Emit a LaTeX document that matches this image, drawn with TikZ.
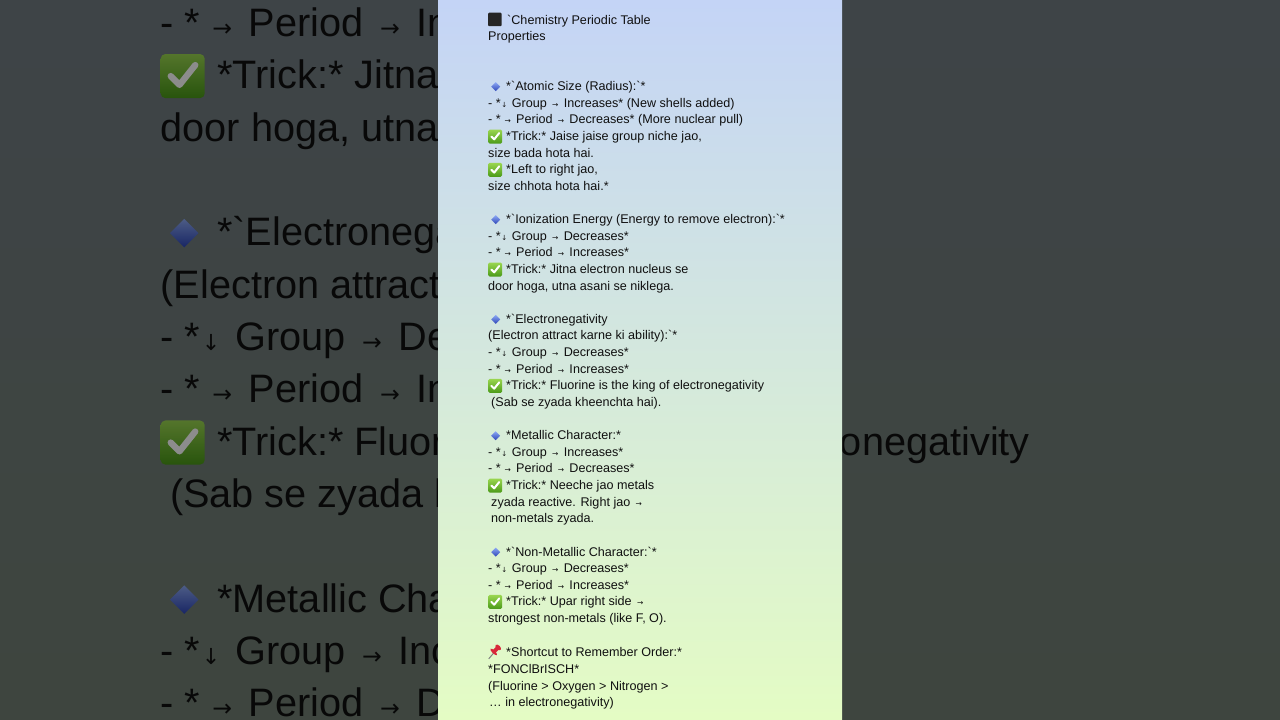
\documentclass[tikz,border=0pt]{standalone}
\usepackage{fontspec}
\setmainfont{Liberation Sans}[Ligatures=TeXOff]
\newfontfamily\arfont{DejaVu Sans}
\definecolor{paneltop}{HTML}{C4D4F6}
\definecolor{panelmid}{HTML}{D3E8DC}
\definecolor{panelbot}{HTML}{E4FCC4}
\definecolor{sidetop}{HTML}{717C83}
\definecolor{sidebot}{HTML}{717F73}
\definecolor{txtcol}{HTML}{101010}
\definecolor{sqcol}{HTML}{262626}
\definecolor{diaT}{HTML}{8CA8F4}
\definecolor{diaB}{HTML}{2E46B8}
\definecolor{chkT}{HTML}{9AD650}
\definecolor{chkB}{HTML}{4A9A18}
\definecolor{chkW}{HTML}{FFFFFF}
\definecolor{pinred}{HTML}{D8283A}
\definecolor{pingray}{HTML}{808080}
\newcommand\ra{\hspace{1.8pt}{\arfont\fontsize{7.5}{7.5}\selectfont →}\hspace{1.8pt}}
\newcommand\da{\hspace{0.5pt}{\arfont\fontsize{7}{7}\selectfont ↓}\hspace{1.2pt}}
\newcommand\icsq{\makebox[19pt][l]{\tikz[x=1pt,y=1pt,baseline=0pt]{\fill[sqcol,rounded corners=1pt] (0.5,-2) rectangle (14,11.5);}}}
\newcommand\icdia{\makebox[18pt][l]{\tikz[x=1pt,y=1pt,baseline=0pt]{\path (0,0) rectangle (1,1);\shade[top color=diaT,bottom color=diaB] (7.5,-0.5) -- (12,4) -- (7.5,8.5) -- (3,4) -- cycle;}}}
\newcommand\icchk{\makebox[18pt][l]{\tikz[x=1pt,y=1pt,baseline=0pt]{\shade[top color=chkT,bottom color=chkB,rounded corners=1.5pt] (0,-3) rectangle (14,11);\draw[chkW,line width=2pt,line cap=round,line join=round] (3.2,4) -- (6,1.2) -- (11,7.5);}}}
\newcommand\icpin{\makebox[18pt][l]{\tikz[x=1pt,y=1pt,baseline=0pt]{\draw[pingray,line width=1pt] (1.5,-2) -- (7,4.5);\fill[pinred,rotate around={-45:(6.5,5)}] (6.5,5) ellipse (4.5pt and 1.5pt);\draw[pinred,line width=4pt] (7,5.5) -- (10.5,9);\fill[pinred,rotate around={-45:(11,9.5)}] (11,9.5) ellipse (3.5pt and 2pt);}}}
\newcommand\txtblock{\fontsize{12.6}{16.62}\selectfont\color{txtcol}%
\begin{tabular}{@{}l@{}}
\icsq`Chemistry Periodic Table\\
Properties\\
\\
\\
\icdia*`Atomic Size (Radius):`*\\
- *\da\ Group \ra\ Increases* (New shells added)\\
- *\hspace{2pt}\ra\ Period \ra\ Decreases* (More nuclear pull)\\
\icchk*Trick:* Jaise jaise group niche jao,\\
size bada hota hai.\\
\icchk*Left to right jao,\\
size chhota hota hai.*\\
\\
\icdia*`Ionization Energy (Energy to remove electron):`*\\
- *\da\ Group \ra\ Decreases*\\
- *\hspace{2pt}\ra\ Period \ra\ Increases*\\
\icchk*Trick:* Jitna electron nucleus se\\
door hoga, utna asani se niklega.\\
\\
\icdia*`Electronegativity\\
(Electron attract karne ki ability):`*\\
- *\da\ Group \ra\ Decreases*\\
- *\hspace{2pt}\ra\ Period \ra\ Increases*\\
\icchk*Trick:* Fluorine is the king of electronegativity\\
\hspace*{3pt}(Sab se zyada kheenchta hai).\\
\\
\icdia*Metallic Character:*\\
- *\da\ Group \ra\ Increases*\\
- *\hspace{2pt}\ra\ Period \ra\ Decreases*\\
\icchk*Trick:* Neeche jao metals\\
\hspace*{3pt}zyada reactive. Right jao \ra\\
\hspace*{3pt}non-metals zyada.\\
\\
\icdia*`Non-Metallic Character:`*\\
- *\da\ Group \ra\ Decreases*\\
- *\hspace{2pt}\ra\ Period \ra\ Increases*\\
\icchk*Trick:* Upar right side \ra\\
strongest non-metals (like F, O).\\
\\
\icpin*Shortcut to Remember Order:*\\
\relax*FONClBrISCH*\\
(Fluorine > Oxygen > Nitrogen >\\
\hspace*{1pt}… in electronegativity)
\end{tabular}}
\begin{document}
\begin{tikzpicture}[x=1pt,y=-1pt]
\useasboundingbox (0,0) rectangle (1280,720);
\begin{scope}
\clip (0,0) rectangle (1280,720);
\shade[top color=sidetop,bottom color=sidebot] (0,0) rectangle (1280,720);
\node[anchor=north west,inner sep=0pt,scale=3.15] (bigtext) at (160,-733.9) {\txtblock};
\fill[black,opacity=0.45] (0,0) rectangle (1280,720);
\shade[top color=paneltop,middle color=panelmid,bottom color=panelbot] (438,0) rectangle (842,720);
\node[anchor=north west,inner sep=0pt] (main) at (488,12.37) {\txtblock};
\end{scope}
\end{tikzpicture}
\end{document}
